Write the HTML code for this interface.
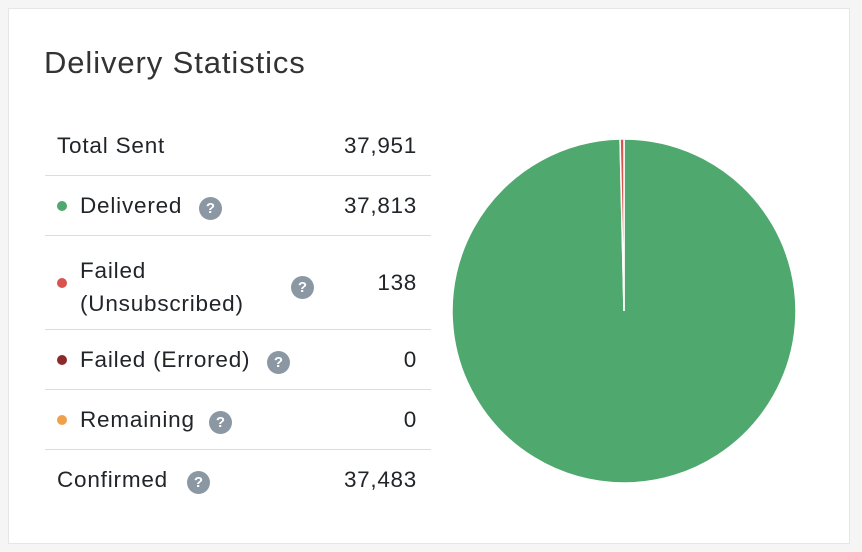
<!DOCTYPE html>
<html><head><meta charset="utf-8"><style>
body{margin:0;width:862px;height:552px;background:#f5f5f5;font-family:"Liberation Sans",Arial,sans-serif;color:#212529;overflow:hidden}
.card{position:absolute;left:8px;top:8px;width:842px;height:536px;background:#fff;border:1px solid #e6e6e6;box-sizing:border-box}
h1{position:absolute;left:35px;top:36px;margin:0;font-size:31px;letter-spacing:0.9px;font-weight:normal;color:#333}
.row{position:absolute;left:36px;width:386px;border-bottom:1px solid #ddd;font-size:22.5px;letter-spacing:0.8px}
.row .l{position:absolute;left:12px}
.row .v{position:absolute;right:14px;letter-spacing:0.7px}
.dot{display:inline-block;width:10px;height:10px;border-radius:50%;position:absolute;left:12px}
.q{display:inline-block;width:23px;height:23px;border-radius:50%;background:#8b97a3;color:#fff;font-size:15px;letter-spacing:0;font-weight:bold;text-align:center;line-height:23px;position:absolute}
svg{position:absolute;left:0;top:0}
</style></head><body>
<div class="card">
<h1>Delivery Statistics</h1>
<div class="row" style="top:107px;height:59px"><span class="l" style="top:17px">Total Sent</span><span class="v" style="top:17px">37,951</span></div>
<div class="row" style="top:167px;height:59px"><span class="dot" style="background:#4fa86e;top:25px"></span><span class="l" style="left:35px;top:17px">Delivered</span><span class="q" style="left:154px;top:21px">?</span><span class="v" style="top:17px">37,813</span></div>
<div class="row" style="top:227px;height:93px"><span class="dot" style="background:#d9534f;top:42px"></span><span class="l" style="left:35px;top:18px;line-height:33px">Failed<br>(Unsubscribed)</span><span class="q" style="left:246px;top:40px">?</span><span class="v" style="top:34px">138</span></div>
<div class="row" style="top:321px;height:59px"><span class="dot" style="background:#8b2a2a;top:25px"></span><span class="l" style="left:35px;top:17px">Failed (Errored)</span><span class="q" style="left:222px;top:21px">?</span><span class="v" style="top:17px">0</span></div>
<div class="row" style="top:381px;height:59px"><span class="dot" style="background:#f0a04b;top:25px"></span><span class="l" style="left:35px;top:17px">Remaining</span><span class="q" style="left:164px;top:21px">?</span><span class="v" style="top:17px">0</span></div>
<div class="row" style="top:441px;height:59px;border-bottom:none"><span class="l" style="top:17px">Confirmed</span><span class="q" style="left:142px;top:21px">?</span><span class="v" style="top:17px">37,483</span></div>
</div>
<svg width="862" height="552" id="pie"></svg>
<script>
const categories=["Delivered","Failed (Unsubscribed)","Failed (Errored)","Remaining"];
const values=[37813,138,0,0];
const colors=["#4fa86e","#d9534f","#8b2a2a","#f0a04b"];
const svg=document.getElementById('pie');
const cx=624,cy=311,r=172;
const total=values.reduce((a,b)=>a+b,0);
let a0=-Math.PI/2;
values.forEach((v,i)=>{
  if(v<=0)return;
  const a1=a0+v/total*2*Math.PI;
  const large=(a1-a0)>Math.PI?1:0;
  const p=document.createElementNS('http://www.w3.org/2000/svg','path');
  const x0=cx+r*Math.cos(a0),y0=cy+r*Math.sin(a0),x1=cx+r*Math.cos(a1),y1=cy+r*Math.sin(a1);
  p.setAttribute('d',`M${cx},${cy}L${x0},${y0}A${r},${r} 0 ${large} 1 ${x1},${y1}Z`);
  p.setAttribute('fill',colors[i]);
  p.setAttribute('stroke','#fff');
  p.setAttribute('stroke-width','1.5');
  
  
  svg.appendChild(p);
  a0=a1;
});
</script>
</body></html>
